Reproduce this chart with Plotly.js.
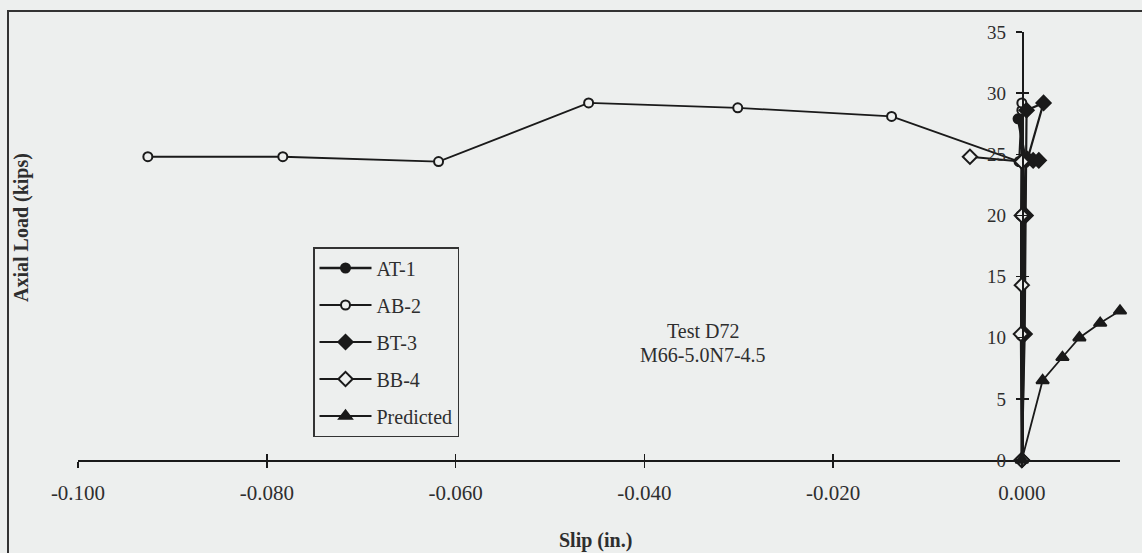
<!DOCTYPE html>
<html>
<head>
<meta charset="utf-8">
<script src="https://cdn.plot.ly/plotly-3.0.1.min.js"></script>
<style>
html,body{margin:0;padding:0;background:#edefee;}
#chart{width:1142px;height:553px;}
</style>
</head>
<body>
<div id="chart"></div>
<script>
// ---- data (slip in inches, axial load in kips) ----
const seriesNames = ["AT-1", "AB-2", "BT-3", "BB-4", "Predicted"];

const at1Slip = [0, 0.0002, 0.0003, 0.0004, -0.0004];
const at1Load = [0, 10.3, 20.1, 24.5, 27.9];

const ab2Slip = [0, -0.0001, -0.0001, 0, 0, -0.0003, -0.0138, -0.0301, -0.0459, -0.0618, -0.0783, -0.0926];
const ab2Load = [0, 10.2, 20.0, 28.6, 29.2, 24.4, 28.1, 28.8, 29.2, 24.4, 24.8, 24.8];

const bt3Slip = [0, 0.0003, 0.0004, 0.0005, 0.0023, 0.0006, 0.0012, 0.0018];
const bt3Load = [0, 10.3, 20.0, 28.6, 29.2, 24.6, 24.5, 24.5];

const bb4Slip = [0, -0.0001, 0, 0, 0, -0.0055];
const bb4Load = [0, 10.3, 14.3, 20.0, 24.4, 24.8];

const predSlip = [0, 0.0022, 0.0043, 0.0061, 0.0083, 0.0104];
const predLoad = [0, 6.5, 8.4, 10.0, 11.2, 12.2];

const xTickVals = [-0.100, -0.080, -0.060, -0.040, -0.020, 0.000];
const xTickText = ["-0.100", "-0.080", "-0.060", "-0.040", "-0.020", "0.000"];
const yTickVals = [0, 5, 10, 15, 20, 25, 30, 35];

// ---- styling ----
const BG = "#edefee";
const INK = "#1a1a1a";
const TXT = "#2e2e2e";
const SERIF = "Liberation Serif, Times New Roman, serif";

function series(name, xs, ys, symbol, filled, size, group, lw) {
  return {
    type: "scatter", mode: "lines+markers", name: name,
    x: xs, y: ys, legendgroup: group,
    line: {color: INK, width: lw},
    marker: {symbol: symbol, size: size, color: filled ? INK : BG,
             line: {color: INK, width: 2}},
    cliponaxis: false
  };
}

const traces = [
  series(seriesNames[0], at1Slip, at1Load, "circle", true, 9, "g1", 2.6),
  series(seriesNames[1], ab2Slip, ab2Load, "circle", false, 9, "g2", 1.8),
  series(seriesNames[2], bt3Slip, bt3Load, "diamond", true, 11, "g3", 2.2),
  series(seriesNames[3], bb4Slip, bb4Load, "diamond", false, 11, "g4", 2.2),
  series(seriesNames[4], predSlip, predLoad, "triangle-up", true, 11, "g5", 1.8),
  {type: "scatter", mode: "markers", x: [], y: [], xaxis: "x2", yaxis: "y2",
   showlegend: false, hoverinfo: "skip"}
];

const W = 1142, H = 553;
const xPixL = 78, xPixR = 1120, yPixTop = 32, yPixZero = 460;
const xRange = [-0.100, 0.0104];
const yRange = [0, 35];
const xDomain = [xPixL / W, xPixR / W];
const yDomain = [(H - yPixZero) / H, (H - yPixTop) / H];
const yAxisPos = xDomain[0] + (0 - xRange[0]) / (xRange[1] - xRange[0]) * (xDomain[1] - xDomain[0]);

const axisCommon = {
  showgrid: false, zeroline: false, showline: true,
  linecolor: INK, linewidth: 1.8, tickcolor: INK, tickwidth: 1.5, ticklen: 6,
  tickfont: {family: SERIF, color: TXT, size: 19}
};

const layout = {
  width: W, height: H,
  margin: {l: 0, r: 0, t: 0, b: 0, pad: 0},
  paper_bgcolor: BG, plot_bgcolor: BG,
  showlegend: true,
  xaxis: Object.assign({}, axisCommon, {
    domain: xDomain, range: xRange, anchor: "y",
    tickmode: "array", tickvals: xTickVals, ticktext: xTickText,
    ticks: "outside", ticklabelstandoff: 7,
    tickfont: {family: SERIF, color: TXT, size: 21}
  }),
  yaxis: Object.assign({}, axisCommon, {
    domain: yDomain, range: yRange, anchor: "free", position: yAxisPos,
    tickmode: "array", tickvals: yTickVals, ticks: "outside",
    ticklabelstandoff: 6,
    tickfont: {family: SERIF, color: TXT, size: 19}
  }),
  xaxis2: {domain: xDomain, range: xRange, overlaying: "x", anchor: "y",
    showgrid: false, zeroline: false, showline: false, showticklabels: false,
    tickmode: "array", tickvals: xTickVals, ticks: "inside", ticklen: 6,
    tickwidth: 1.5, tickcolor: INK},
  yaxis2: {domain: yDomain, range: yRange, overlaying: "y", anchor: "free",
    position: yAxisPos,
    showgrid: false, zeroline: false, showline: false, showticklabels: false,
    tickmode: "array", tickvals: yTickVals, ticks: "inside", ticklen: 6,
    tickwidth: 1.5, tickcolor: INK},
  legend: {
    x: 313 / W, y: (H - 247) / H, xanchor: "left", yanchor: "top",
    bgcolor: BG, bordercolor: "#333", borderwidth: 1.5,
    font: {family: SERIF, size: 20, color: TXT},
    tracegroupgap: 8, itemwidth: 52
  },
  shapes: [{
    type: "rect", xref: "paper", yref: "paper",
    x0: 8 / W, x1: 1.02, y0: -0.02, y1: (H - 11) / H,
    line: {color: "#333", width: 2}, fillcolor: "rgba(0,0,0,0)", layer: "below"
  }],
  annotations: [
    {text: "Test D72", xref: "paper", yref: "paper", x: 703 / W, y: (H - 331) / H,
     xanchor: "center", yanchor: "middle",
     showarrow: false, font: {family: SERIF, size: 20, color: TXT}},
    {text: "M66-5.0N7-4.5", xref: "paper", yref: "paper", x: 703 / W, y: (H - 355) / H,
     xanchor: "center", yanchor: "middle",
     showarrow: false, font: {family: SERIF, size: 20, color: TXT}},
    {text: "<b>Slip (in.)</b>", xref: "paper", yref: "paper", x: 595 / W, y: (H - 540) / H,
     xanchor: "center", yanchor: "middle",
     showarrow: false, font: {family: SERIF, size: 20, color: TXT}},
    {text: "<b>Axial Load (kips)</b>", xref: "paper", yref: "paper", x: 21 / W, y: (H - 228) / H,
     xanchor: "center", yanchor: "middle",
     showarrow: false, textangle: -90, font: {family: SERIF, size: 20, color: TXT}}
  ]
};

Plotly.newPlot("chart", traces, layout, {displayModeBar: false, staticPlot: true});
</script>
</body>
</html>
